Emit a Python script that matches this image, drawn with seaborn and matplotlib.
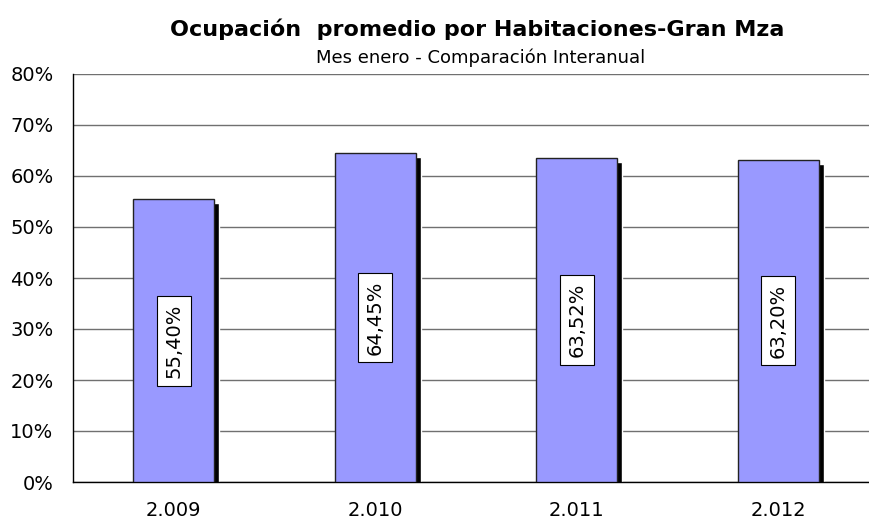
import matplotlib
matplotlib.use("Agg")
import matplotlib.pyplot as plt
import matplotlib.transforms as mtransforms
from matplotlib.ticker import FuncFormatter, FixedLocator
import seaborn as sns
import pandas as pd

years = ["2.009", "2.010", "2.011", "2.012"]
ocupacion = [55.40, 64.45, 63.52, 63.20]
etiquetas = ["55,40%", "64,45%", "63,52%", "63,20%"]

df = pd.DataFrame({"Año": years, "Ocupacion": ocupacion})

sns.set_style("white")
plt.rcParams['font.family'] = ['DejaVu Sans']
plt.rcParams['text.color'] = 'black'
plt.rcParams['xtick.color'] = 'black'
plt.rcParams['ytick.color'] = 'black'

fig = plt.figure(figsize=(8.7, 5.19), dpi=100)
ax = fig.add_axes([73/870, 1 - 482/519, 806/870, 408/519])

# sombra de las barras
sns.barplot(data=df, x="Año", y="Ocupacion", color="black", width=0.40,
            saturation=1, ax=ax, zorder=2)
shift = mtransforms.ScaledTranslation(5/100, -4/100, fig.dpi_scale_trans)
for p in ax.patches:
    p.set_transform(ax.transData + shift)
    p.set_clip_on(True)
    p.set_clip_path(ax.patch)

sns.barplot(data=df, x="Año", y="Ocupacion", color="#9999FF", width=0.40,
            saturation=1, edgecolor="#222222", linewidth=1, ax=ax, zorder=3)

for i, (v, lab) in enumerate(zip(ocupacion, etiquetas)):
    ax.text(i, v / 2, lab, rotation=90, ha="center", va="center", fontsize=14,
            zorder=5,
            bbox=dict(facecolor="white", edgecolor="black", linewidth=0.8, pad=5.5))

ax.set_ylim(0, 80)
ax.set_xlim(-0.5, 3.5)
ax.set_yticks(range(0, 81, 10))
ax.yaxis.set_major_formatter(FuncFormatter(lambda v, _: f"{int(v)}%"))
ax.yaxis.grid(True, color="#707070", linewidth=1, zorder=0)
ax.set_axisbelow(True)
ax.xaxis.set_minor_locator(FixedLocator([-0.5, 0.5, 1.5, 2.5, 3.5]))
ax.tick_params(axis="x", which="major", length=0, labelsize=14, pad=14)
ax.tick_params(axis="x", which="minor", length=6, width=1, color="black", direction="out")
ax.tick_params(axis="y", length=5, width=1, color="black", direction="out", labelsize=14, pad=9)
ax.set_xlabel("")
ax.set_ylabel("")
for s in ["top", "right"]:
    ax.spines[s].set_visible(False)
for s in ["left", "bottom"]:
    ax.spines[s].set_color("black")
    ax.spines[s].set_linewidth(1)

fig.text(477/870, 1 - 29/519, "Ocupación  promedio por Habitaciones-Gran Mza",
         ha="center", va="center", fontsize=16, fontweight="bold")
fig.text(481/870, 1 - 58/519, "Mes enero - Comparación Interanual",
         ha="center", va="center", fontsize=13)

fig.savefig("out.png", dpi=100)
